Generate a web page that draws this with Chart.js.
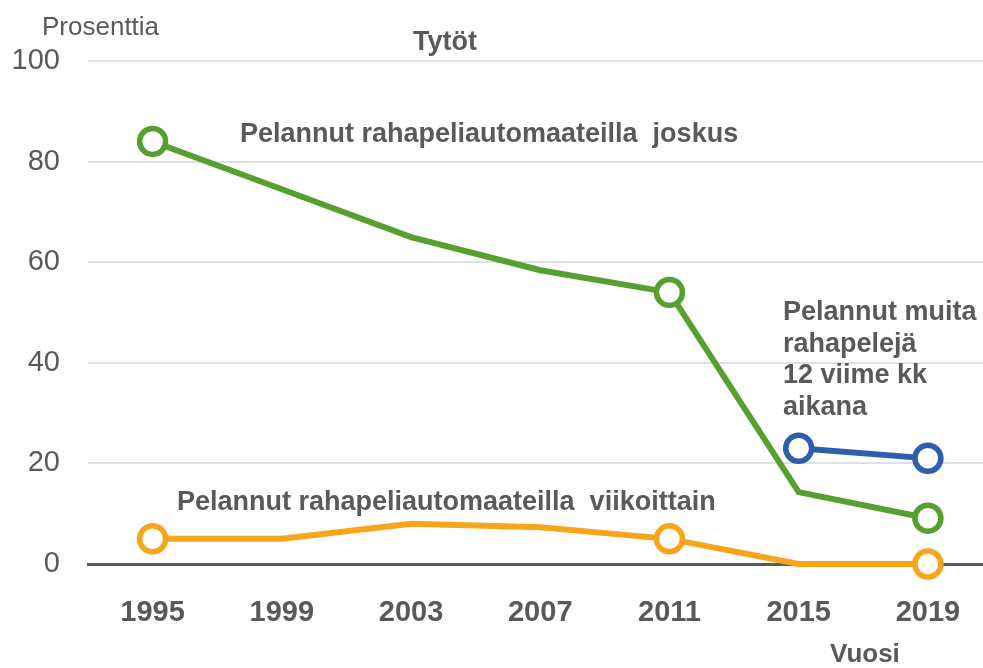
<!DOCTYPE html>
<html>
<head>
<meta charset="utf-8">
<script src="https://cdn.jsdelivr.net/npm/chart.js@4"></script>
<style>
  html, body { margin: 0; padding: 0; overflow: hidden; background: #fff; }
  #wrap { position: absolute; left: 0; top: 0; width: 1011px; height: 668px; }
</style>
</head>
<body>
<div id="wrap"><canvas id="chart" width="1011" height="668"></canvas></div>
<script>
// Data
const years = ['1995', '1999', '2003', '2007', '2011', '2015', '2019'];
const joskus = [84, 74.5, 65, 58.4, 54, 14.3, 9.1];
const viikoittain = [5, 5, 8, 7.3, 5, 0, 0];
const muita = [null, null, null, null, null, 23, 21];
const yTicks = [0, 20, 40, 60, 80, 100];

// markers only at some years
const markedRadius = [13, 0, 0, 0, 13, 0, 13];

const textGray = '#595959';
Chart.defaults.font.family = '"Liberation Sans", Arial, sans-serif';
Chart.defaults.color = textGray;

const labelsPlugin = {
    id: 'labels',
    afterDraw(chart) {
        const ctx = chart.ctx;
        ctx.save();
        ctx.fillStyle = textGray;
        ctx.textBaseline = 'alphabetic';
        ctx.textAlign = 'left';
        ctx.font = '26px "Liberation Sans", Arial, sans-serif';
        ctx.fillText('Prosenttia', 42, 35);
        ctx.font = 'bold 27px "Liberation Sans", Arial, sans-serif';
        ctx.fillText('Tytöt', 413, 50);
        ctx.fillText('Pelannut rahapeliautomaateilla  joskus', 240, 142);
        ctx.fillText('Pelannut rahapeliautomaateilla  viikoittain', 177, 510);
        const muitaLines = ['Pelannut muita', 'rahapelejä', '12 viime kk', 'aikana'];
        muitaLines.forEach((t, i) => ctx.fillText(t, 783, 320 + i * 31.6));
        ctx.font = 'bold 26px "Liberation Sans", Arial, sans-serif';
        ctx.fillText('Vuosi', 830, 662);
        ctx.restore();
    }
};

function lineSet(data, color, radius) {
    return {
        data: data,
        borderColor: color,
        backgroundColor: color,
        borderWidth: 6,
        tension: 0,
        pointRadius: radius,
        pointHoverRadius: radius,
        pointBackgroundColor: '#ffffff',
        pointBorderColor: color,
        pointBorderWidth: 5.5,
        clip: false
    };
}

new Chart(document.getElementById('chart'), {
    type: 'line',
    data: {
        labels: years,
        datasets: [
            lineSet(muita, '#2e5fad', 13),
            lineSet(joskus, '#55a02e', markedRadius),
            lineSet(viikoittain, '#f8a51c', markedRadius)
        ]
    },
    options: {
        responsive: false,
        animation: false,
        layout: { padding: { top: 61, right: 1, left: 0, bottom: 0 } },
        plugins: { legend: { display: false }, tooltip: { enabled: false } },
        scales: {
            x: {
                offset: true,
                grid: { display: false },
                border: { display: true, color: textGray, width: 3 },
                ticks: { font: { size: 29, weight: 'bold' }, color: textGray, padding: 24, maxRotation: 0 },
                afterFit: s => { s.height = 104; s.paddingLeft = 0; s.paddingRight = 0; }
            },
            y: {
                min: 0,
                max: 100,
                afterBuildTicks: s => { s.ticks = yTicks.map(v => ({ value: v })); },
                grid: {
                    drawTicks: false,
                    lineWidth: 2,
                    color: c => (c.tick && c.tick.value === 0) ? 'rgba(0,0,0,0)' : '#dde0e5'
                },
                border: { display: false },
                ticks: { font: { size: 29 }, color: textGray, padding: 28 },
                afterFit: s => { s.width = 88; }
            }
        }
    },
    plugins: [labelsPlugin]
});
</script>
</body>
</html>
